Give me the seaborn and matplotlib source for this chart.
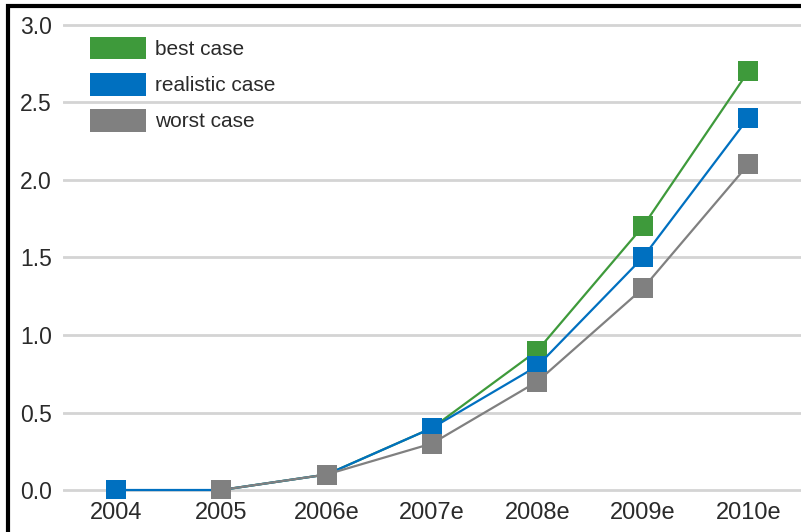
import numpy as np
import pandas as pd
import matplotlib
matplotlib.use("Agg")
import matplotlib.pyplot as plt
import matplotlib.patches as mpatches
import seaborn as sns

years = ["2004", "2005", "2006e", "2007e", "2008e", "2009e", "2010e"]
best_case = [np.nan, 0.0, 0.1, 0.4, 0.9, 1.7, 2.7]
realistic_case = [0.0, 0.0, 0.1, 0.4, 0.8, 1.5, 2.4]
worst_case = [np.nan, 0.0, 0.1, 0.3, 0.7, 1.3, 2.1]
series_names = ["best case", "realistic case", "worst case"]
y_ticks = [0.0, 0.5, 1.0, 1.5, 2.0, 2.5, 3.0]
y_tick_labels = ["0.0", "0.5", "1.0", "1.5", "2.0", "2.5", "3.0"]
colors = ["#3e9a3b", "#0070c0", "#808080"]

rows = []
for name, vals in zip(series_names, [best_case, realistic_case, worst_case]):
    for i, (yr, v) in enumerate(zip(years, vals)):
        if not np.isnan(v):
            rows.append({"idx": i, "year": yr, "value": v, "series": name})
df = pd.DataFrame(rows)

sns.set_theme(style="white")
plt.rcParams["font.family"] = ["Liberation Sans", "DejaVu Sans"]

fig = plt.figure(figsize=(8.01, 5.32), dpi=100)
ax = fig.add_axes([63 / 801, 1 - 497.75 / 532, 1 - 63 / 801, (497.75 - 17.25) / 532])

for name, col in zip(series_names, colors):
    sub = df[df["series"] == name]
    sns.lineplot(data=sub, x="idx", y="value", color=col, marker="s",
                 markersize=14, markeredgewidth=0, linewidth=1.6, ax=ax,
                 legend=False, zorder=3)

ax.set_xlim(-0.5, 6.5)
ax.set_ylim(-0.05, 3.05)
ax.set_xticks(range(len(years)))
ax.set_xticklabels(years)
ax.set_yticks(y_ticks)
ax.set_yticklabels(y_tick_labels)
ax.tick_params(axis="both", length=0, colors="#2a2a2a")
ax.tick_params(axis="y", pad=8, labelsize=16.5)
ax.tick_params(axis="x", pad=3, labelsize=17)
ax.set_xlabel("")
ax.set_ylabel("")
for s in ax.spines.values():
    s.set_visible(False)
ax.grid(False)
for yv in y_ticks:
    ax.axhline(yv, color="#d4d4d4", linewidth=2.0, zorder=1)

handles = [mpatches.Patch(facecolor=c, edgecolor="none", label=n) for c, n in zip(colors, series_names)]
leg = ax.legend(handles=handles, loc="upper left", bbox_to_anchor=(0.0257, 0.977),
                frameon=False, fontsize=15, handlelength=2.65, handleheight=1.3,
                labelspacing=0.65, handletextpad=0.45, borderaxespad=0)
for t in leg.get_texts():
    t.set_color("#2a2a2a")

fig.patches.append(mpatches.Rectangle((8 / 801, -0.5), 2.0, 0.5 + (1 - 6 / 532),
                                      transform=fig.transFigure, fill=False,
                                      edgecolor="black", linewidth=3, figure=fig))

fig.savefig("out.png", dpi=100)
